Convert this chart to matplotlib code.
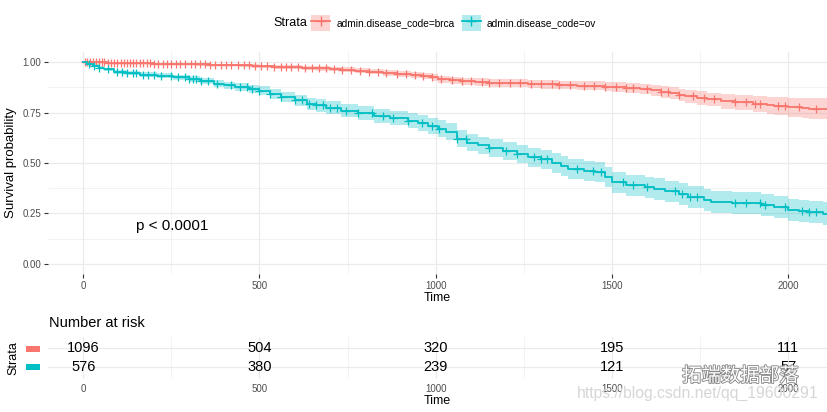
import numpy as np
import matplotlib
matplotlib.use("Agg")
import matplotlib.pyplot as plt
from matplotlib.patches import Patch, Rectangle
from matplotlib.lines import Line2D
from matplotlib.legend_handler import HandlerTuple
import matplotlib.patheffects as pe

plt.rcParams['font.family'] = ['Liberation Sans', 'DejaVu Sans']

# ---- dati ----
strata_labels = ['admin.disease_code=brca', 'admin.disease_code=ov']
colors = ['#F8766D', '#00BFC4']

brca_time = [0, 15, 40, 70, 100, 130, 160, 200, 240, 280, 320, 360, 400, 440, 480, 500, 540,
             580, 620, 660, 700, 730, 770, 810, 850, 890, 930, 960, 990, 1005, 1040, 1071, 1110,
             1150, 1200, 1261, 1300, 1350, 1400, 1440, 1480, 1500, 1540, 1580, 1610, 1639, 1665,
             1690, 1707, 1740, 1770, 1810, 1850, 1900, 1940, 1960, 2000, 2040, 2060]
brca_surv = [1.0, 0.999, 0.998, 0.997, 0.996, 0.995, 0.994, 0.993, 0.992, 0.991, 0.989, 0.987,
             0.986, 0.984, 0.981, 0.979, 0.977, 0.975, 0.972, 0.969, 0.966, 0.962, 0.958, 0.953,
             0.947, 0.941, 0.935, 0.93, 0.924, 0.915, 0.91, 0.905, 0.901, 0.898, 0.895, 0.892,
             0.889, 0.887, 0.884, 0.882, 0.879, 0.875, 0.871, 0.866, 0.86, 0.852, 0.846, 0.838,
             0.83, 0.822, 0.815, 0.806, 0.80, 0.793, 0.787, 0.782, 0.776, 0.773, 0.77]
brca_hw = [0, 0.001, 0.002, 0.002, 0.003, 0.003, 0.004, 0.004, 0.005, 0.005, 0.006, 0.006, 0.007,
           0.007, 0.008, 0.009, 0.009, 0.010, 0.010, 0.011, 0.011, 0.012, 0.013, 0.013, 0.014,
           0.015, 0.015, 0.016, 0.016, 0.017, 0.017, 0.018, 0.018, 0.019, 0.019, 0.02, 0.02,
           0.021, 0.021, 0.022, 0.023, 0.024, 0.025, 0.026, 0.027, 0.028, 0.029, 0.030, 0.031,
           0.033, 0.034, 0.036, 0.038, 0.040, 0.042, 0.044, 0.046, 0.048, 0.05]
brca_censor = [5, 12, 20, 28, 35, 44, 52, 60, 70, 78, 88, 97, 106, 115, 124, 133, 142, 150, 160,
               170, 180, 190, 200, 212, 225, 238, 250, 262, 275, 290, 305, 318, 332, 345, 360,
               375, 390, 405, 420, 438, 455, 470, 488, 505, 520, 540, 560, 575, 590, 610, 630,
               650, 668, 690, 712, 735, 760, 785, 810, 835, 860, 890, 915, 940, 965, 990, 1015,
               1045, 1075, 1100, 1130, 1150, 1180, 1210, 1240, 1270, 1300, 1330, 1350, 1380,
               1420, 1450, 1480, 1510, 1540, 1560, 1600, 1640, 1660, 1690, 1730, 1760, 1790,
               1850, 1880, 1905, 1920, 1970, 1990, 2030, 2080]

ov_time = [0, 10, 28, 45, 60, 86, 120, 162, 210, 256, 300, 332, 370, 400, 430, 470, 500, 530,
           560, 600, 636, 660, 690, 730, 780, 824, 870, 920, 950, 977, 1006, 1030, 1060, 1090,
           1119, 1150, 1190, 1230, 1261, 1300, 1330, 1355, 1375, 1420, 1451, 1480, 1500, 1540,
           1594, 1620, 1650, 1690, 1716, 1760, 1781, 1840, 1923, 1960, 2000, 2030, 2060, 2100]
ov_surv = [1.0, 0.993, 0.983, 0.972, 0.965, 0.95, 0.944, 0.938, 0.932, 0.925, 0.917, 0.908,
           0.892, 0.885, 0.878, 0.868, 0.859, 0.843, 0.826, 0.81, 0.793, 0.785, 0.775, 0.76,
           0.748, 0.735, 0.722, 0.71, 0.70, 0.685, 0.67, 0.655, 0.62, 0.60, 0.587, 0.575, 0.56,
           0.545, 0.529, 0.518, 0.50, 0.485, 0.471, 0.462, 0.455, 0.43, 0.405, 0.39, 0.38,
           0.372, 0.36, 0.345, 0.33, 0.315, 0.306, 0.30, 0.29, 0.283, 0.268, 0.263, 0.258, 0.248]
ov_hw = [0, 0.004, 0.006, 0.007, 0.008, 0.009, 0.01, 0.011, 0.012, 0.013, 0.014, 0.015, 0.017,
         0.018, 0.019, 0.02, 0.022, 0.024, 0.026, 0.028, 0.03, 0.031, 0.031, 0.032, 0.034, 0.035,
         0.036, 0.038, 0.039, 0.04, 0.041, 0.042, 0.042, 0.043, 0.044, 0.045, 0.045, 0.046,
         0.047, 0.048, 0.049, 0.049, 0.05, 0.05, 0.05, 0.051, 0.052, 0.052, 0.053, 0.053, 0.053,
         0.054, 0.054, 0.054, 0.055, 0.055, 0.055, 0.055, 0.056, 0.056, 0.056, 0.057]
ov_censor = [15, 30, 45, 70, 95, 110, 125, 140, 150, 170, 185, 200, 220, 250, 270, 290, 300, 310,
             320, 335, 355, 380, 420, 445, 465, 480, 500, 530, 560, 600, 620, 640, 660, 680, 700,
             720, 745, 780, 820, 850, 880, 920, 960, 990, 1010, 1060, 1085, 1150, 1200, 1230,
             1280, 1300, 1315, 1400, 1445, 1470, 1530, 1560, 1600, 1680, 1700, 1720, 1740, 1850,
             1880, 1920, 1935, 1990, 2040, 2060, 2080]

FOLLOWUP_END = 2110

risk_times = [0, 500, 1000, 1500, 2000]
risk_brca = [1096, 504, 320, 195, 111]
risk_ov = [576, 380, 239, 121, 57]

x_ticks = [0, 500, 1000, 1500, 2000]
y_ticks = [0.0, 0.25, 0.5, 0.75, 1.0]
pval_text = 'p < 0.0001'

W, H = 827, 412
fig = plt.figure(figsize=(W / 100, H / 100), dpi=100)
XLIM = (-100, 2110)
GRID = '#EBEBEB'
TICKC = '#4D4D4D'


def px_rect(l, t, r, b):
    return [l / W, 1 - b / H, (r - l) / W, (b - t) / H]


# ==========================
# curva di sopravvivenza
# ==========================
ax = fig.add_axes(px_rect(48, 52, 827, 274))
for s in ax.spines.values():
    s.set_visible(False)
ax.set_xlim(XLIM)
ax.set_ylim(-0.05, 1.05)
ax.set_xticks(x_ticks)
ax.set_xticks([250, 750, 1250, 1750], minor=True)
ax.set_yticks(y_ticks)
ax.set_yticklabels(['0.00', '0.25', '0.50', '0.75', '1.00'])
ax.set_yticks([0.125, 0.375, 0.625, 0.875], minor=True)
ax.grid(True, which='major', color=GRID, lw=0.9)
ax.grid(True, which='minor', color=GRID, lw=0.45)
ax.set_axisbelow(True)
ax.tick_params(which='major', length=3, width=0.8, color='#333333', labelsize=7, labelcolor=TICKC, pad=2)
ax.tick_params(which='minor', length=0)
ax.set_xlabel('Time', fontsize=9, labelpad=1)
ax.set_ylabel('Survival probability', fontsize=9.5, labelpad=4)

curves = [(brca_time, brca_surv, brca_hw, brca_censor), (ov_time, ov_surv, ov_hw, ov_censor)]
for (t, s, hw, cens), col in zip(curves, colors):
    t = np.array(t + [FOLLOWUP_END], dtype=float)
    s = np.array(s + [s[-1]])
    hw = np.array(hw + [hw[-1]])
    ax.fill_between(t, s - hw, s + hw, step='post', color=col, alpha=0.3, lw=0)
    ax.step(t, s, where='post', color=col, lw=1.3)
    c = np.array(cens, dtype=float)
    idx = np.searchsorted(t, c, side='right') - 1
    ax.plot(c, s[idx], ls='none', marker='+', ms=6, mew=0.9, color=col)

ax.text(150, 0.19, pval_text, fontsize=11, ha='left', va='center')

# legenda in alto
handles = [(Patch(facecolor=col, alpha=0.3, edgecolor='none'),
            Line2D([], [], color=col, lw=1.3, marker='+', ms=7, mew=1.0)) for col in colors]
fig.legend(handles, strata_labels, ncol=2, loc='center left', frameon=False,
           bbox_to_anchor=(311 / W, 1 - 23 / H), fontsize=7.3, handlelength=1.9,
           handleheight=1.9, handletextpad=0.6, columnspacing=0.7, borderpad=0, borderaxespad=0,
           handler_map={tuple: HandlerTuple(ndivide=1)})
fig.text(273 / W, 1 - 23 / H, 'Strata', fontsize=9, ha='left', va='center')

# ==========================
# tabella numero a rischio
# ==========================
axt = fig.add_axes(px_rect(48, 337, 827, 378.5))
for s in axt.spines.values():
    s.set_visible(False)
axt.set_xlim(XLIM)
axt.set_ylim(0.4, 2.6)
axt.set_xticks(x_ticks)
axt.set_xticks([250, 750, 1250, 1750], minor=True)
axt.set_yticks([1, 2])
axt.set_yticklabels([])
axt.grid(True, which='major', color=GRID, lw=0.9)
axt.grid(True, which='minor', axis='x', color=GRID, lw=0.45)
axt.set_axisbelow(True)
axt.tick_params(which='both', length=0, labelsize=7, labelcolor=TICKC, pad=4)
axt.set_xlabel('Time', fontsize=9, labelpad=1)

for row, counts in zip([2, 1], [risk_brca, risk_ov]):
    for t, n in zip(risk_times, counts):
        axt.text(t, row, str(n), fontsize=10.5, ha='center', va='center')

fig.text(49 / W, 1 - 323 / H, 'Number at risk', fontsize=10.5, ha='left', va='center')
fig.text(13 / W, 1 - 358 / H, 'Strata', fontsize=9, rotation=90, ha='center', va='center')
for ypx, col in zip([349, 367], colors):
    fig.patches.append(Rectangle((26 / W, 1 - (ypx + 3) / H), 14 / W, 6 / H,
                                 transform=fig.transFigure, facecolor=col, edgecolor='none'))

# watermark
fig.text(577 / W, 1 - 393 / H, 'https://blog.csdn.net/qq_19600291', fontsize=11.3,
         color='#d6d6d6', ha='left', va='center')
fig.text(682 / W, 1 - 376 / H, '拓端数据部落', fontsize=14, color='white',
         family=['Noto Sans CJK SC', 'DejaVu Sans'], ha='left', va='center',
         path_effects=[pe.withStroke(linewidth=1.3, foreground='#8a8a8a')])

fig.savefig('out.png', dpi=100)
